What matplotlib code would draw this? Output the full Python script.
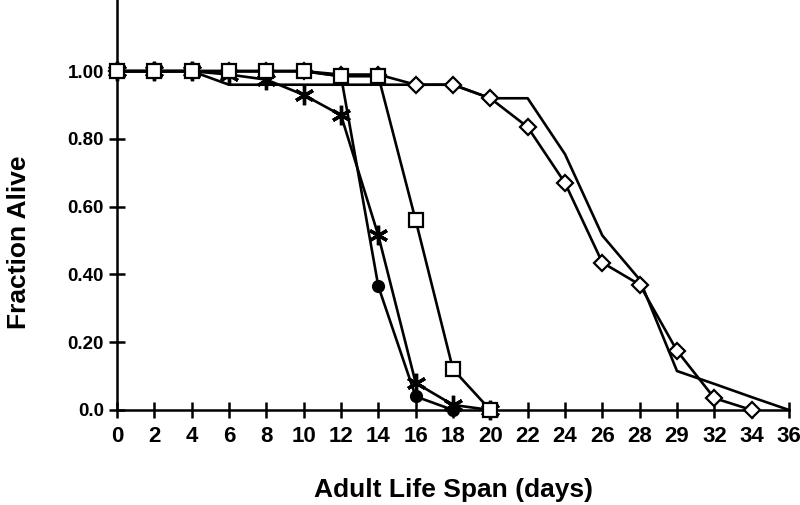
import matplotlib
matplotlib.use('Agg')
import matplotlib.pyplot as plt

# days on the x axis (the original axis labels 30 as "29")
tick_days = [0, 2, 4, 6, 8, 10, 12, 14, 16, 18, 20, 22, 24, 26, 28, 30, 32, 34, 36]
tick_labels = ['0', '2', '4', '6', '8', '10', '12', '14', '16', '18', '20',
               '22', '24', '26', '28', '29', '32', '34', '36']

# survival curves (fraction alive)
plain_days = [0, 2, 4, 6, 8, 10, 12, 14, 16, 18, 20, 22, 24, 26, 28, 30, 32, 34, 36]
plain_alive = [1.0, 1.0, 1.0, 0.96, 0.96, 0.96, 0.96, 0.96, 0.96, 0.96, 0.92,
               0.92, 0.755, 0.515, 0.385, 0.115, 0.077, 0.038, 0.0]

diamond_days = [0, 2, 4, 6, 8, 10, 12, 14, 16, 18, 20, 22, 24, 26, 28, 30, 32, 34]
diamond_alive = [1.0, 1.0, 1.0, 1.0, 1.0, 1.0, 0.99, 0.99, 0.96, 0.96, 0.92,
                 0.835, 0.67, 0.435, 0.37, 0.175, 0.035, 0.0]

square_days = [0, 2, 4, 6, 8, 10, 12, 14, 16, 18, 20]
square_alive = [1.0, 1.0, 1.0, 1.0, 1.0, 1.0, 0.985, 0.985, 0.56, 0.12, 0.0]

star_days = [0, 2, 4, 6, 8, 10, 12, 14, 16, 18, 20]
star_alive = [1.0, 1.0, 1.0, 0.99, 0.975, 0.93, 0.87, 0.515, 0.08, 0.015, 0.0]

circle_days = [0, 2, 4, 6, 8, 10, 12, 14, 16, 18]
circle_alive = [1.0, 1.0, 1.0, 1.0, 1.0, 1.0, 0.985, 0.365, 0.04, 0.0]

fig = plt.figure(figsize=(8, 5.05), dpi=100)
ax = fig.add_axes([117/800, 95/505, 672/800, 410/505])

lw = 1.9
ax.plot(plain_days, plain_alive, color='k', linewidth=lw, clip_on=False, zorder=2)
ax.plot(circle_days, circle_alive, color='k', linewidth=lw, marker='o', markersize=8.5,
        markerfacecolor='k', markeredgecolor='k', clip_on=False, zorder=3)
ax.plot(star_days, star_alive, color='k', linewidth=lw, marker=(6, 2, 0), markersize=14,
        markeredgewidth=2.4, markeredgecolor='k', clip_on=False, zorder=4)
ax.plot(diamond_days, diamond_alive, color='k', linewidth=lw, marker='D', markersize=8.5,
        markerfacecolor='white', markeredgecolor='k', markeredgewidth=1.6,
        clip_on=False, zorder=5)
ax.plot(square_days, square_alive, color='k', linewidth=lw, marker='s', markersize=9.5,
        markerfacecolor='white', markeredgecolor='k', markeredgewidth=1.6,
        clip_on=False, zorder=6)

ax.set_xlim(0, 36)
ax.set_ylim(0, 1.21)

for side in ['top', 'right']:
    ax.spines[side].set_visible(False)
for side in ['left', 'bottom']:
    ax.spines[side].set_linewidth(1.8)

ax.set_xticks(tick_days)
ax.set_xticklabels(tick_labels, fontsize=16, fontweight='bold',
                   family=['Liberation Sans Narrow', 'Liberation Sans', 'DejaVu Sans'])
ax.set_yticks([0, 0.2, 0.4, 0.6, 0.8, 1.0])
ax.set_yticklabels(['0.0', '0.20', '0.40', '0.60', '0.80', '1.00'], fontsize=13.5,
                   fontweight='bold', family=['Liberation Sans', 'DejaVu Sans'])
ax.tick_params(axis='both', direction='inout', length=11, width=1.8)
ax.tick_params(axis='x', pad=6)
ax.tick_params(axis='y', pad=4)

ax.set_xlabel('Adult Life Span (days)', fontsize=19, fontweight='bold',
              family=['Liberation Sans', 'DejaVu Sans'], labelpad=22)
ax.set_ylabel('Fraction Alive', fontsize=19, fontweight='bold',
              family=['Liberation Sans', 'DejaVu Sans'])
ax.yaxis.set_label_coords(-0.128, 0.41)

fig.savefig('out.png', dpi=100)
